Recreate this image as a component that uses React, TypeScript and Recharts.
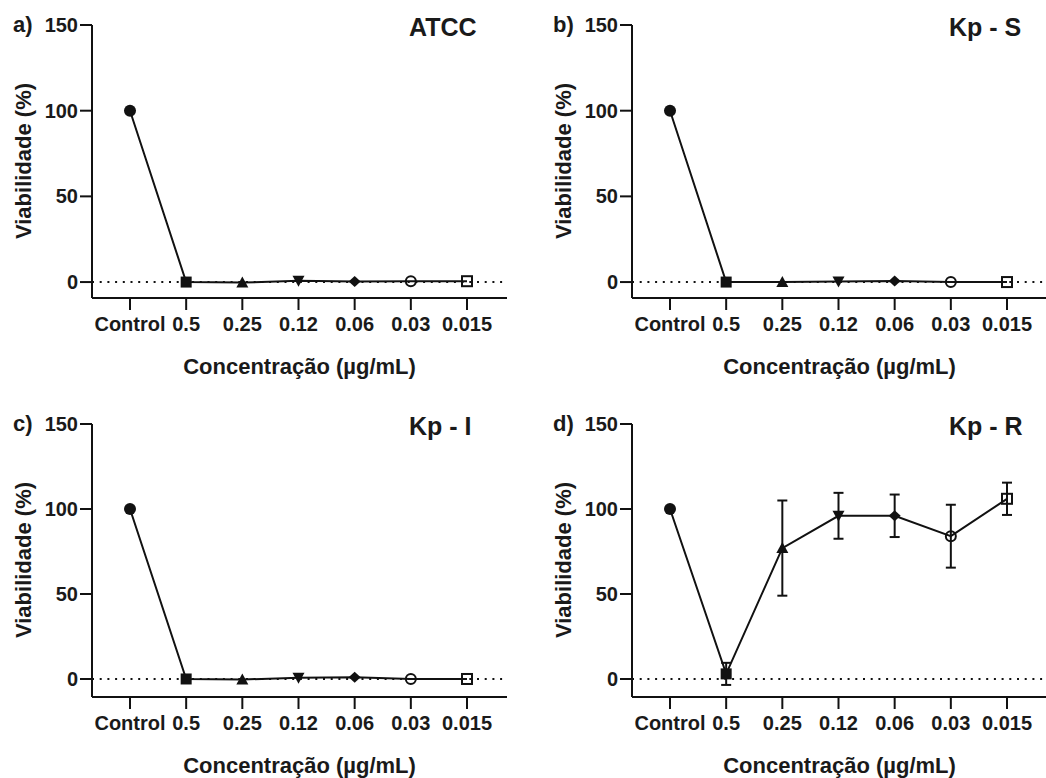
import React from 'react';
import { LineChart, Line, XAxis, YAxis, ReferenceLine, ErrorBar } from 'recharts';

// x categories (concentration in µg/mL)
const concentrations = ['Control', '0.5', '0.25', '0.12', '0.06', '0.03', '0.015'];
const yTicks = [0, 50, 100, 150];

// viability (%) per strain
const atccValues = [100, 0, -0.3, 0.7, 0.4, 0.5, 0.5];
const kpSValues = [100, 0, 0, 0.3, 0.6, 0, 0];
const kpIValues = [100, 0, -0.3, 0.7, 1, 0, 0];
const kpRValues = [100, 3, 77, 96, 96, 84, 106];
const kpRErrors = [0, 6.5, 28, 13.5, 12.5, 18.5, 9.5];

const FONT = '"Liberation Sans", Arial, Helvetica, sans-serif';
const INK = '#111';
const TEXT = '#1a1a1a';

const PANEL_W = 540;
const PANEL_H = 398;
const AXIS_W = 92;
const PLOT_RIGHT = 507;

// a different symbol for every concentration, like the original figure
const Marker = (props: any) => {
  const { cx, cy, index } = props;
  if (cx == null || cy == null) return null;
  const k = `m-${index}`;
  switch (index) {
    case 0:
      return <circle key={k} cx={cx} cy={cy} r={6} fill={INK} />;
    case 1:
      return <rect key={k} x={cx - 5.5} y={cy - 5.5} width={11} height={11} fill={INK} />;
    case 2:
      return <polygon key={k} points={`${cx},${cy - 6} ${cx + 6},${cy + 5} ${cx - 6},${cy + 5}`} fill={INK} />;
    case 3:
      return <polygon key={k} points={`${cx},${cy + 6} ${cx + 6},${cy - 5} ${cx - 6},${cy - 5}`} fill={INK} />;
    case 4:
      return <polygon key={k} points={`${cx},${cy - 5.5} ${cx + 6},${cy} ${cx},${cy + 5.5} ${cx - 6},${cy}`} fill={INK} />;
    case 5:
      return <circle key={k} cx={cx} cy={cy} r={5} fill="none" stroke={INK} strokeWidth={2} />;
    default:
      return <rect key={k} x={cx - 5} y={cy - 5} width={10} height={10} fill="none" stroke={INK} strokeWidth={2} />;
  }
};

interface PanelProps {
  letter: string;
  title: string;
  values: number[];
  errors?: number[];
  left: number;
  top: number;
  yMin: number;
}

const Panel: React.FC<PanelProps> = ({ letter, title, values, errors, left, top, yMin }) => {
  const data = concentrations.map((c, i) => ({
    conc: c,
    value: values[i],
    err: errors ? errors[i] : 0,
  }));

  const xTitle = () => (
    <text
      x={(AXIS_W + PLOT_RIGHT) / 2}
      y={374}
      textAnchor="middle"
      fontFamily={FONT}
      fontWeight={700}
      fontSize={22}
      fill={TEXT}
    >
      Concentração (µg/mL)
    </text>
  );

  const yTitle = () => (
    <text
      x={30.5}
      y={161}
      transform="rotate(-90, 30.5, 161)"
      textAnchor="middle"
      fontFamily={FONT}
      fontWeight={700}
      fontSize={22}
      fill={TEXT}
    >
      Viabilidade (%)
    </text>
  );

  return (
    <div style={{ position: 'absolute', left, top, width: PANEL_W, height: PANEL_H }}>
      <LineChart
        width={PANEL_W}
        height={PANEL_H}
        data={data}
        margin={{ top: 25, right: PANEL_W - PLOT_RIGHT, bottom: 0, left: 0 }}
      >
        <XAxis
          dataKey="conc"
          type="category"
          height={100}
          padding={{ left: 38, right: 40 }}
          interval={0}
          tickSize={12}
          tickMargin={7}
          axisLine={{ stroke: INK, strokeWidth: 2 }}
          tickLine={{ stroke: INK, strokeWidth: 2 }}
          tick={{ fill: TEXT, fontSize: 20, fontWeight: 700, fontFamily: FONT }}
          label={xTitle}
        />
        <YAxis
          type="number"
          width={AXIS_W}
          domain={[yMin, 150]}
          ticks={yTicks}
          allowDataOverflow
          tickSize={12}
          tickMargin={2}
          axisLine={{ stroke: INK, strokeWidth: 2 }}
          tickLine={{ stroke: INK, strokeWidth: 2 }}
          tick={{ fill: TEXT, fontSize: 20, fontWeight: 700, fontFamily: FONT }}
          label={yTitle}
        />
        <ReferenceLine y={0} stroke={INK} strokeWidth={2} strokeDasharray="2 5.7" />
        <Line
          type="linear"
          dataKey="value"
          stroke={INK}
          strokeWidth={2}
          dot={Marker}
          activeDot={false}
          isAnimationActive={false}
        >
          {errors && (
            <ErrorBar dataKey="err" direction="y" width={5} stroke={INK} strokeWidth={2} isAnimationActive={false} />
          )}
        </Line>
      </LineChart>
      <div
        style={{
          position: 'absolute',
          left: 13,
          top: 14,
          fontFamily: FONT,
          fontWeight: 700,
          fontSize: 22,
          lineHeight: '22px',
          color: TEXT,
        }}
      >
        {letter}
      </div>
      <div
        style={{
          position: 'absolute',
          left: 409,
          top: 15,
          fontFamily: FONT,
          fontWeight: 700,
          fontSize: 25,
          lineHeight: '24px',
          color: TEXT,
          whiteSpace: 'nowrap',
        }}
      >
        {title}
      </div>
    </div>
  );
};

export default function App() {
  return (
    <div
      style={{
        position: 'absolute',
        left: 0,
        top: 0,
        width: 1046,
        height: 778,
        overflow: 'hidden',
        background: '#fff',
      }}
    >
      <Panel letter="a)" title="ATCC" values={atccValues} left={0} top={0} yMin={-9.3} />
      <Panel letter="b)" title="Kp - S" values={kpSValues} left={540} top={0} yMin={-9.3} />
      <Panel letter="c)" title="Kp - I" values={kpIValues} left={0} top={399} yMin={-10.6} />
      <Panel letter="d)" title="Kp - R" values={kpRValues} errors={kpRErrors} left={540} top={399} yMin={-10.6} />
    </div>
  );
}
